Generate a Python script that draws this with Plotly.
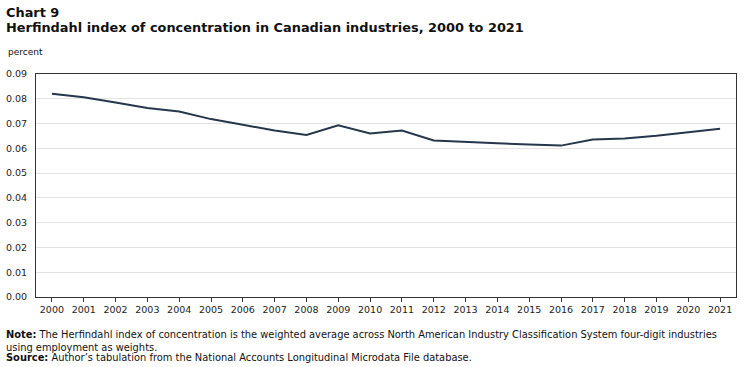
import plotly.graph_objects as go

years = [str(y) for y in range(2000, 2022)]
hhi = [0.0820, 0.0806, 0.0785, 0.0763, 0.0749, 0.0718, 0.0695, 0.0672, 0.0654, 0.0693,
       0.0660, 0.0672, 0.0632, 0.0625, 0.0621, 0.0615, 0.0611, 0.0636, 0.0640, 0.0651,
       0.0664, 0.0679]
y_ticks = [0.00, 0.01, 0.02, 0.03, 0.04, 0.05, 0.06, 0.07, 0.08, 0.09]

FONT = "DejaVu Sans"
W, H = 749, 367
ML, MR, MT, MB = 36, 13, 74, 70

fig = go.Figure()
fig.add_trace(go.Scatter(x=years, y=hhi, mode="lines",
                         line=dict(color="#26364b", width=2), showlegend=False))


def px(x, y):
    return (x - ML) / (W - ML - MR), (H - y - MB) / (H - MT - MB)


def ann(text, x, y, size, yanchor="middle"):
    ax, ay = px(x, y)
    return dict(text=text, x=ax, y=ay, xref="paper", yref="paper",
                xanchor="left", yanchor=yanchor, showarrow=False, align="left",
                font=dict(size=size, color="#111111"))


fig.update_layout(
    width=W, height=H,
    margin=dict(l=ML, r=MR, t=MT, b=MB, autoexpand=False),
    paper_bgcolor="white", plot_bgcolor="white",
    font=dict(family=FONT, size=10, color="#333333"),
    xaxis=dict(type="category", range=[-0.5, 21.5], showgrid=False, automargin=False,
               ticks="outside", ticklen=4, tickcolor="#333333",
               showline=True, linecolor="#333333", linewidth=1, mirror=True,
               tickfont=dict(size=9.5, color="#222222")),
    yaxis=dict(range=[0, 0.09], tickvals=y_ticks, tickformat=".2f", automargin=False,
               showgrid=True, gridcolor="#e3e3e3", gridwidth=1,
               showline=True, linecolor="#333333", linewidth=1, mirror=True,
               zeroline=False, ticks="", ticklabelstandoff=6,
               tickfont=dict(size=9.5, color="#222222")),
    annotations=[
        ann("<b>Chart 9</b>", 4, 12, 12.9),
        ann("<b>Herfindahl index of concentration in Canadian industries, 2000 to 2021</b>", 4, 27, 12.9),
        ann("percent", 6, 52, 9),
        ann("<b>Note:</b> The Herfindahl index of concentration is the weighted average across North American Industry Classification System four-digit industries<br>using employment as weights.",
            4, 327, 9.9, "top"),
        ann("<b>Source:</b> Author\u2019s tabulation from the National Accounts Longitudinal Microdata File database.",
            4, 350, 9.9, "top"),
    ],
)

fig.write_html("out.html", config={"displayModeBar": False},
               post_script="document.body.style.margin='0';document.body.style.overflow='hidden';")
